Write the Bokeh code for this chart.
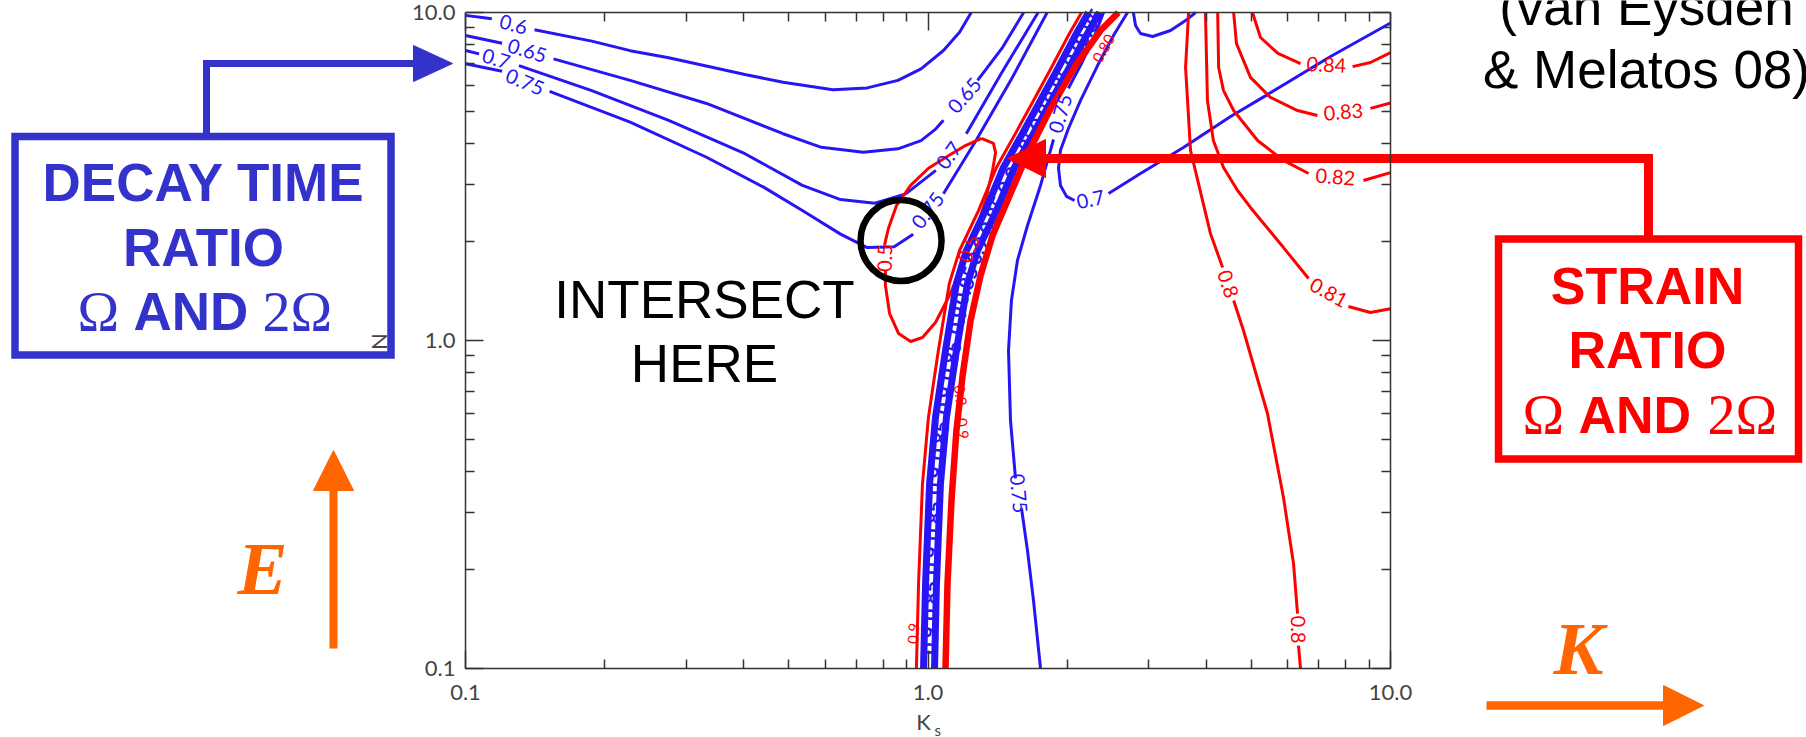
import math
from bokeh.plotting import figure
from bokeh.models import Range1d, LogAxis, LogScale, FixedTicker
from bokeh.embed import file_html
from bokeh.resources import INLINE
from bokeh.core.properties import value

NAN = float("nan")

# ---------------------------------------------------------------- axes
MAJOR_TICKS = [0.1, 1.0, 10.0]
MINOR_TICKS = [0.2, 0.3, 0.4, 0.5, 0.6, 0.7, 0.8, 0.9, 2, 3, 4, 5, 6, 7, 8, 9]
TICK_LABELS = {0.1: "0.1", 1.0: "1.0", 10.0: "10.0"}

# ------------------------------------------- decay-time ratio (blue) contours
TAU_060_KS = [0.1, 0.114, NAN, 0.141, 0.1875, 0.227, 0.275, 0.402, 0.486, 0.623, 0.739, 0.861, 0.966, 1.08, 1.17, 1.24]
TAU_060_N = [9.8, 9.57, NAN, 8.86, 8.18, 7.65, 7.28, 6.47, 6.13, 5.81, 5.89, 6.21, 6.73, 7.66, 8.71, 10.0]

TAU_065_KS = [0.1, 0.120, NAN, 0.155, 0.227, 0.332, 0.486, 0.588, 0.725, 0.861, 0.966, 1.04, 1.08, NAN, 1.28, 1.45, 1.61]
TAU_065_N = [8.51, 8.06, NAN, 7.22, 6.21, 5.28, 4.27, 3.88, 3.75, 3.84, 4.07, 4.42, 4.69, NAN, 6.21, 7.83, 10.0]

TAU_070_KS = [0.1, 0.107, NAN, 0.1305, 0.1875, 0.275, 0.402, 0.535, 0.647, 0.768, 0.895, 1.04, NAN, 1.21, 1.44, 1.73]
TAU_070_N = [7.66, 7.48, NAN, 6.89, 5.78, 4.69, 3.71, 2.97, 2.69, 2.62, 2.80, 3.30, NAN, 4.27, 6.52, 10.0]

TAU_075_KS = [0.1, 0.120, NAN, 0.152, 0.227, 0.332, 0.442, 0.535, 0.647, 0.739, 0.845, 0.929, NAN, 1.08, 1.27, 1.51, 1.81]
TAU_075_N = [6.98, 6.62, NAN, 5.75, 4.63, 3.62, 2.93, 2.49, 2.11, 1.92, 1.93, 2.11, NAN, 2.80, 4.07, 6.21, 10.0]

TAU_075R_KS = [1.751, 1.691, 1.641, 1.593, NAN, 1.546, 1.508, 1.493, 1.515, 1.561, 1.641, 1.751, 1.84, 1.868, NAN, 2.012, 2.136, 2.28, 2.396]
TAU_075R_N = [0.1, 0.161, 0.229, 0.3075, NAN, 0.3796, 0.570, 0.932, 1.324, 1.754, 2.242, 2.97, 3.80, 4.10, NAN, 5.87, 6.89, 8.33, 10.0]

TAU_070R_KS = [2.70, 2.518, 2.326, 2.136, 2.012, 1.934, 1.915, 1.934, 1.993, 2.074, NAN, 2.457, 2.88, 3.567, 4.51, 5.42, 7.42, 10.0]
TAU_070R_N = [10.0, 8.51, 6.89, 5.39, 4.43, 3.80, 3.345, 2.97, 2.75, 2.672, NAN, 2.807, 3.23, 3.876, 4.82, 5.62, 7.34, 9.29]

TAU_TOP_KS = [2.78, 2.81, 2.88, 3.06, 3.345, 3.605, 3.79]
TAU_TOP_N = [10.0, 9.13, 8.63, 8.45, 8.81, 9.45, 10.0]

# crowded contours along the resonance ridge
RIDGE_N = [0.1, 0.1816, 0.3664, 0.582, 0.932, 1.492, 1.881, 2.49, 3.37, 4.28, 5.39, 6.80, 8.63, 10.0]
RIDGE_BLUE_A_KS = [0.978, 0.988, 1.008, 1.038, 1.091, 1.152, 1.211, 1.331, 1.456, 1.601, 1.751, 1.915, 2.094, 2.224]
RIDGE_BLUE_B_KS = [1.033, 1.043, 1.064, 1.096, 1.152, 1.217, 1.280, 1.406, 1.538, 1.691, 1.849, 2.022, 2.212, 2.349]
RIDGE_RED_KS = [0.944, 0.954, 0.973, 1.002, 1.053, 1.112, 1.170, 1.286, 1.406, 1.546, 1.691, 1.849, 2.022, 2.148]

RIDGE_LBL_KS = [1.007, 1.0125, 1.018, 1.028, 1.038, 1.059, 1.086, 1.118, 1.158, 1.205, 1.279, 1.379, 1.493, 1.617, 1.751, 1.905, 2.074, 2.223]
RIDGE_LBL_N = [0.1218, 0.161, 0.2135, 0.2826, 0.3743, 0.4955, 0.656, 0.869, 1.151, 1.471, 1.881, 2.405, 3.075, 3.876, 4.785, 5.99, 7.50, 9.00]
RIDGE_LBL_TEXT = ["0.9", "0.85", "0.9", "0.85", "0.9", "0.85", "0.9", "0.85", "0.9",
                  "0.85", "0.9", "0.85", "0.9", "0.85", "0.9", "0.85", "0.9", "0.85"]
RIDGE_LBL_ANGLE = [1.54, 1.53, 1.52, 1.50, 1.47, 1.44, 1.40, 1.36, 1.34, 1.25, 1.20, 1.15, 1.10, 1.08, 1.07, 1.07, 1.07, 1.07]

# ------------------------------------------------ strain ratio (red) contours
STRAIN_LOOP_KS = [1.305, 1.385, 1.40, 1.379, 1.331, 1.267, NAN, 1.188, 1.107, 1.038, 0.973, 0.917, 0.864, 0.826,
                  0.809, 0.809, NAN, 0.805, 0.821, 0.855, 0.917, 1.0025, 1.107, 1.205, 1.305]
STRAIN_LOOP_N = [4.13, 3.99, 3.74, 3.30, 2.67, 2.13, NAN, 1.693, 1.352, 1.135, 1.021, 0.993, 1.05, 1.208,
                 1.471, 1.634, NAN, 1.948, 2.195, 2.58, 2.97, 3.35, 3.66, 3.93, 4.13]

STRAIN_RIDGE_KS = [1.091, 1.102, 1.124, 1.152, 1.188, 1.236, 1.299, 1.379, 1.486, 1.625, 1.822, 2.084, 2.36, 2.58]
STRAIN_RIDGE_N = [0.1, 0.1816, 0.325, 0.5317, 0.782, 1.151, 1.578, 2.09, 2.672, 3.59, 4.96, 6.89, 8.81, 10.0]

STRAIN_080_KS = [3.66, 3.605, 3.695, 4.08, 4.335, NAN, 4.58, 4.81, 5.42, 5.87, 6.17, 6.295, NAN, 6.325, 6.39]
STRAIN_080_N = [10.0, 6.80, 3.80, 2.12, 1.67, NAN, 1.324, 1.073, 0.599, 0.332, 0.209, 0.147, NAN, 0.1175, 0.1]

STRAIN_081_KS = [3.98, 4.02, 4.14, 4.355, 4.67, 4.98, 5.87, 6.65, NAN, 8.11, 9.05, 10.0]
STRAIN_081_N = [10.0, 5.39, 4.07, 3.37, 2.866, 2.545, 1.92, 1.545, NAN, 1.27, 1.217, 1.25]

STRAIN_082_KS = [4.23, 4.25, 4.355, 4.58, 5.16, 5.87, 6.65, NAN, 8.74, 10.0]
STRAIN_082_N = [10.0, 6.80, 5.78, 5.025, 4.07, 3.54, 3.23, NAN, 3.075, 3.25]

STRAIN_083_KS = [4.58, 4.645, 4.98, 5.50, 6.295, 6.95, NAN, 9.05, 10.0]
STRAIN_083_N = [10.0, 8.04, 6.34, 5.51, 5.025, 4.85, NAN, 5.10, 5.30]

STRAIN_084_KS = [5.03, 5.235, 5.71, 6.39, NAN, 8.28, 9.05, 10.0]
STRAIN_084_N = [10.0, 8.39, 7.50, 6.99, NAN, 6.84, 7.04, 7.55]

# ------------------------------------------------------------ contour labels
TAU_LBL_KS = [0.127, 0.136, 0.1165, 0.1344, 1.20, 1.11, 1.0, 1.569, 1.934, 2.245]
TAU_LBL_N = [9.19, 7.65, 7.22, 6.13, 5.58, 3.66, 2.49, 0.3415, 4.92, 2.69]
TAU_LBL_TEXT = ["0.6", "0.65", "0.7", "0.75", "0.65", "0.7", "0.75", "0.75", "0.75", "0.7"]
TAU_LBL_ANGLE = [-0.255, -0.293, -0.30, -0.394, 0.855, 0.95, 0.918, -1.48, 1.285, 0.203]

STRAIN_LBL_KS = [0.807, 1.226, 7.27, 7.91, 7.60, 7.35, 4.45, 6.31]
STRAIN_LBL_N = [1.785, 1.901, 6.92, 4.97, 3.15, 1.40, 1.487, 0.1315]
STRAIN_LBL_TEXT = ["0.5", "0.5", "0.84", "0.83", "0.82", "0.81", "0.8", "0.8"]
STRAIN_LBL_ANGLE = [1.55, 1.195, -0.05, 0.08, -0.08, -0.5, -1.25, -1.55]

RIDGE_RED_LBL_KS = [1.176, 1.188, 0.93, 2.396]
RIDGE_RED_LBL_N = [0.68, 0.539, 0.128, 7.77]
RIDGE_RED_LBL_TEXT = ["0.9", "0.9", "0.9", "0.80"]
RIDGE_RED_LBL_ANGLE = [-1.45, -1.45, 1.5, 1.05]

# marked intersection
CROSS_KS = [0.8745]
CROSS_N = [2.018]

# ------------------------------------------------------------------ figure
W, H = 1806, 737
FL, FR, FT, FB = 465, 1390, 12, 668   # edges of the Ks-N panel on the canvas

BLUE = "#2815f5"
RED = "#ff0000"
BOX_BLUE = "#3333cc"
ORANGE = "#ff6600"
AXIS = "#333333"
GREY = "#444444"

# The frame covers the whole canvas: the default ranges are canvas pixels
# (for the callouts), the "k"/"n" ranges are the logarithmic Ks-N panel.
p = figure(width=W, height=H, x_range=Range1d(0, W), y_range=Range1d(H, 0),
           output_backend="svg", toolbar_location=None, title=None,
           x_axis_location=None, y_axis_location=None, min_border=0)
p.grid.visible = False
p.outline_line_color = None
p.background_fill_color = "white"
p.border_fill_color = "white"

x_dec = (FR - FL) / 2.0
y_dec = (FB - FT) / 2.0
p.extra_x_ranges = {"k": Range1d(10 ** (-1 - FL / x_dec), 10 ** (1 + (W - FR) / x_dec))}
p.extra_x_scales = {"k": LogScale()}
p.extra_y_ranges = {"n": Range1d(10 ** (-1 - (H - FB) / y_dec), 10 ** (1 + FT / y_dec))}
p.extra_y_scales = {"n": LogScale()}
KN = dict(x_range_name="k", y_range_name="n")


def make_axis(side, at, labelled, standoff=10):
    ax = LogAxis(fixed_location=at, bounds=(0.1, 10.0), **KN)
    ax.ticker = FixedTicker(ticks=MAJOR_TICKS, minor_ticks=MINOR_TICKS)
    ax.axis_line_color = AXIS
    ax.axis_line_width = 1.5
    ax.major_tick_line_color = AXIS
    ax.major_tick_line_width = 1.5
    ax.minor_tick_line_color = AXIS
    ax.minor_tick_line_width = 1.5
    ax.major_tick_in = 18
    ax.major_tick_out = 0
    ax.minor_tick_in = 9
    ax.minor_tick_out = 0
    ax.major_label_overrides = TICK_LABELS
    if labelled:
        ax.major_label_text_font = "Lato"
        ax.major_label_text_font_size = "22px"
        ax.major_label_text_color = GREY
        ax.major_label_standoff = standoff
    else:
        ax.major_label_text_alpha = 0.0
    p.add_layout(ax, side)


# blue contours
for ks, n in [(TAU_060_KS, TAU_060_N), (TAU_065_KS, TAU_065_N), (TAU_070_KS, TAU_070_N),
              (TAU_075_KS, TAU_075_N), (TAU_075R_KS, TAU_075R_N), (TAU_070R_KS, TAU_070R_N),
              (TAU_TOP_KS, TAU_TOP_N)]:
    p.line(ks, n, line_color=BLUE, line_width=3, **KN)

# red contours
for ks, n in [(STRAIN_080_KS, STRAIN_080_N), (STRAIN_081_KS, STRAIN_081_N), (STRAIN_082_KS, STRAIN_082_N),
              (STRAIN_083_KS, STRAIN_083_N), (STRAIN_084_KS, STRAIN_084_N), (STRAIN_LOOP_KS, STRAIN_LOOP_N)]:
    p.line(ks, n, line_color=RED, line_width=3, **KN)

# the crowded ridge
p.line(RIDGE_RED_KS, RIDGE_N, line_color=RED, line_width=3, **KN)
p.line(RIDGE_BLUE_A_KS, RIDGE_N, line_color=BLUE, line_width=7, **KN)
p.line(RIDGE_BLUE_B_KS, RIDGE_N, line_color=BLUE, line_width=7, **KN)
p.text(RIDGE_LBL_KS, RIDGE_LBL_N, text=RIDGE_LBL_TEXT, angle=RIDGE_LBL_ANGLE,
       text_font=value("Lato"), text_font_style="bold", text_font_size="20px",
       text_color=BLUE, text_align="center", text_baseline="middle", **KN)
p.text(RIDGE_RED_LBL_KS, RIDGE_RED_LBL_N, text=RIDGE_RED_LBL_TEXT, angle=RIDGE_RED_LBL_ANGLE,
       text_font=value("Lato"), text_font_size="15px",
       text_color=RED, text_align="center", text_baseline="middle", **KN)
p.line(STRAIN_RIDGE_KS, STRAIN_RIDGE_N, line_color=RED, line_width=6.5, **KN)

# contour labels
p.text(TAU_LBL_KS, TAU_LBL_N, text=TAU_LBL_TEXT, angle=TAU_LBL_ANGLE,
       text_font=value("Lato"), text_font_size="20px", text_color=BLUE,
       text_align="center", text_baseline="middle", **KN)
p.text(STRAIN_LBL_KS, STRAIN_LBL_N, text=STRAIN_LBL_TEXT, angle=STRAIN_LBL_ANGLE,
       text_font=value("Lato"), text_font_size="20px", text_color=RED,
       text_align="center", text_baseline="middle", **KN)

# circled intersection
p.scatter(CROSS_KS, CROSS_N, marker="circle", size=81, fill_color=None,
          line_color="black", line_width=6.5, **KN)

# panel box with inward ticks
make_axis("below", 0.1, True, 16)
make_axis("left", 0.1, True, 10)
make_axis("above", 10.0, False)
make_axis("right", 10.0, False)


# ------------------------------------------------ callouts (canvas pixels)
def txt(x, y, s, size, color, font="Liberation Sans", style="normal",
        align="center", angle=0.0):
    # y is the vertical centre of the capitals
    p.text([x], [y], text=[s], angle=[angle], text_font=value(font), text_font_style=style,
           text_font_size=f"{size}px", text_color=color, text_align=align,
           text_baseline="middle")


def arrow(xs, ys, head, color, width):
    p.line(xs, ys, line_color=color, line_width=width, line_join="miter")
    hx, hy = head
    p.patch(hx, hy, fill_color=color, line_color=color, line_width=1)


# axis titles
txt(378, 341, "N", 22, GREY, font="Lato", angle=math.pi / 2)
txt(923, 721, "K", 22, GREY, font="Lato")
txt(934, 729, "s", 15, GREY, font="Lato", align="left")

# decay-time callout
p.quad(left=[14.5], right=[390.5], top=[136], bottom=[354.5], fill_color=None,
       line_color=BOX_BLUE, line_width=7.5, line_join="miter")
arrow([206, 206, 414], [136, 63, 63], ([413, 452, 413], [45, 63, 81]), BOX_BLUE, 7)
txt(203, 182, "DECAY TIME", 53, BOX_BLUE, style="bold")
txt(203, 247, "RATIO", 53, BOX_BLUE, style="bold")
txt(77, 311, "Ω", 56, BOX_BLUE, font="Liberation Serif", align="left")
txt(133, 311, "AND", 53, BOX_BLUE, style="bold", align="left")
txt(262, 311, "2Ω", 56, BOX_BLUE, font="Liberation Serif", align="left")

# strain callout
p.quad(left=[1498], right=[1798], top=[238.5], bottom=[458.5], fill_color=None,
       line_color=RED, line_width=7.5, line_join="miter")
arrow([1648, 1648, 1044], [238.5, 158, 158], ([1045, 1007, 1045], [139, 158, 177]), RED, 9)
txt(1647, 285, "STRAIN", 52, RED, style="bold")
txt(1647, 349, "RATIO", 52, RED, style="bold")
txt(1522, 414, "Ω", 56, RED, font="Liberation Serif", align="left")
txt(1578, 414, "AND", 52, RED, style="bold", align="left")
txt(1707, 414, "2Ω", 56, RED, font="Liberation Serif", align="left")

# citation
txt(1646, 6, "(van Eysden", 53, "black")
txt(1646, 69, "& Melatos 08)", 53, "black")

# intersection note
txt(704, 299, "INTERSECT", 53, "black")
txt(704, 363, "HERE", 53, "black")

# parameter-direction arrows
arrow([333, 333], [648, 489], ([313, 333, 353], [490, 450, 490]), ORANGE, 8)
txt(262, 568, "E", 75, ORANGE, font="Liberation Serif", style="bold italic")
arrow([1486, 1664], [705, 705], ([1663, 1703, 1663], [685, 705, 725]), ORANGE, 8.5)
txt(1578, 648, "K", 75, ORANGE, font="Liberation Serif", style="bold italic")

open("out.html", "w").write(file_html(p, INLINE))
